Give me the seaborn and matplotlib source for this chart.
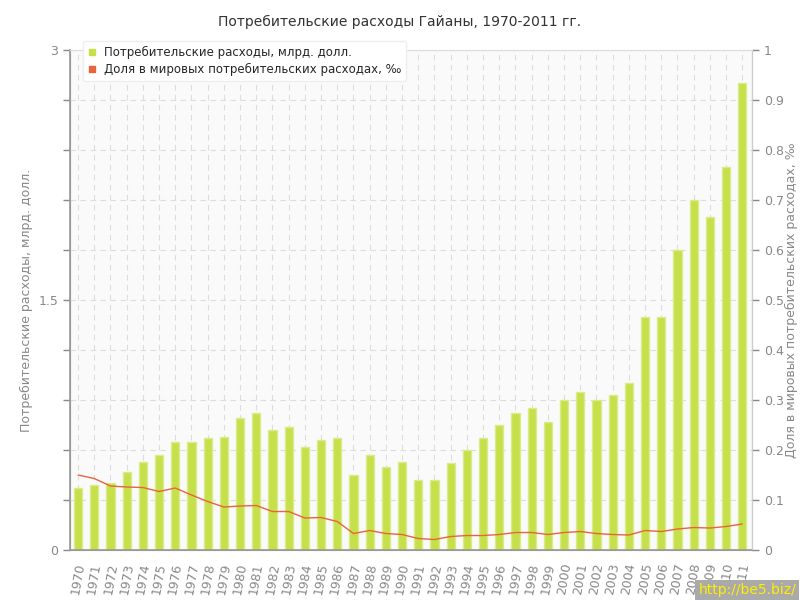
import numpy as np
import pandas as pd
import matplotlib
matplotlib.use('Agg')
import matplotlib.pyplot as plt
import seaborn as sns
from matplotlib.lines import Line2D

## Потребительские расходы Гайаны, 1970-2011

years = list(range(1970, 2012))

# Consumer spending, bln USD
spending = [0.37, 0.39, 0.40, 0.47, 0.53, 0.57, 0.65, 0.65, 0.67, 0.68,
            0.79, 0.82, 0.72, 0.74, 0.62, 0.66, 0.67, 0.45, 0.57, 0.50,
            0.53, 0.42, 0.42, 0.52, 0.60, 0.67, 0.75, 0.82, 0.85, 0.77,
            0.90, 0.95, 0.90, 0.93, 1.00, 1.40, 1.40, 1.80, 2.10, 2.00,
            2.30, 2.80]

# Share of world consumer spending, per mille
share = [0.150, 0.143, 0.128, 0.126, 0.125, 0.117, 0.124, 0.110, 0.097, 0.086,
         0.088, 0.089, 0.077, 0.077, 0.064, 0.065, 0.057, 0.033, 0.039, 0.033,
         0.031, 0.023, 0.021, 0.027, 0.029, 0.029, 0.031, 0.035, 0.035, 0.031,
         0.035, 0.037, 0.033, 0.031, 0.030, 0.039, 0.037, 0.042, 0.045, 0.044,
         0.047, 0.052]

df = pd.DataFrame({'year': [str(y) for y in years], 'spending': spending, 'share': share})

sns.set_style('white')
plt.rcParams['font.family'] = ['DejaVu Sans']

gray = '#888888'
bar_color = '#c6e04c'
line_color = '#e8643c'

fig = plt.figure(figsize=(8, 6), dpi=100)
ax = fig.add_axes([0.0875, 0.0833, 0.8525, 0.8334])
ax.set_facecolor('#fafafa')

sns.barplot(data=df, x='year', y='spending', color=bar_color, width=0.5,
            edgecolor='#d9ec8a', linewidth=1, saturation=1, ax=ax, zorder=2)

ax2 = ax.twinx()
sns.lineplot(x=np.arange(len(years)), y=share, color=line_color, linewidth=1, ax=ax2)

# Axis limits and ticks
ax.set_xlim(-0.5, len(years) - 0.4)
ax.set_ylim(0, 3)
ax2.set_ylim(0, 1)

left_ticks = np.round(np.arange(0, 3.01, 0.3), 1)
ax.set_yticks(left_ticks)
ax.set_yticklabels(['0' if t == 0 else ('1.5' if t == 1.5 else ('3' if t == 3 else '')) for t in left_ticks])
right_ticks = np.round(np.arange(0, 1.01, 0.1), 1)
ax2.set_yticks(right_ticks)
ax2.set_yticklabels(['0' if t == 0 else ('1' if t == 1 else str(t)) for t in right_ticks])

ax.set_xticks(range(len(years)))
ax.set_xticklabels(df['year'], rotation=80, fontsize=9, color=gray)

# Gridlines
ax.grid(True, axis='both', color='#dddddd', linestyle=(0, (5, 4)), linewidth=0.8, zorder=0)
ax.set_axisbelow(True)
for b in ax.patches:
    b.set_zorder(2)

for a in (ax, ax2):
    a.tick_params(axis='both', colors=gray, labelcolor=gray, labelsize=9, length=5, width=1)
    for s in a.spines.values():
        s.set_color('#999999')
ax.spines['top'].set_color('#dddddd')
ax2.spines['top'].set_color('#dddddd')
ax.spines['left'].set_linewidth(1.2)
ax.spines['bottom'].set_linewidth(1.2)
ax2.spines['right'].set_color('#cccccc')

ax.set_xlabel('')
ax.set_ylabel('Потребительские расходы, млрд. долл.', color=gray, fontsize=9)
ax.yaxis.set_label_coords(-0.054, 0.5)
ax2.set_ylabel('Доля в мировых потребительских расходах, ‰', color=gray, fontsize=9, rotation=90)
ax2.yaxis.set_label_coords(1.048, 0.5)

fig.suptitle('Потребительские расходы Гайаны, 1970-2011 гг.', y=0.975, fontsize=10, color='#333333')

# Legend
handles = [Line2D([0], [0], marker='s', color='none', markerfacecolor=bar_color, markeredgecolor=bar_color, markersize=5),
           Line2D([0], [0], marker='s', color='none', markerfacecolor=line_color, markeredgecolor=line_color, markersize=5)]
leg = ax2.legend(handles, ['Потребительские расходы, млрд. долл.', 'Доля в мировых потребительских расходах, ‰'],
                 loc='upper left', bbox_to_anchor=(0.01, 1.03), fontsize=8.5, frameon=True, fancybox=True,
                 handlelength=0.8, handletextpad=0.6, borderpad=0.4, labelspacing=0.35)
leg.get_frame().set_edgecolor('#eeeeee')
leg.get_frame().set_facecolor('white')
leg.get_frame().set_alpha(1)

# Watermark
fig.text(0.995, 0.005, 'http://be5.biz/', ha='right', va='bottom', color='#ffee00', fontsize=10,
         bbox=dict(facecolor='#aaaaaa', edgecolor='none', pad=2))

plt.savefig('out.png', dpi=100)
